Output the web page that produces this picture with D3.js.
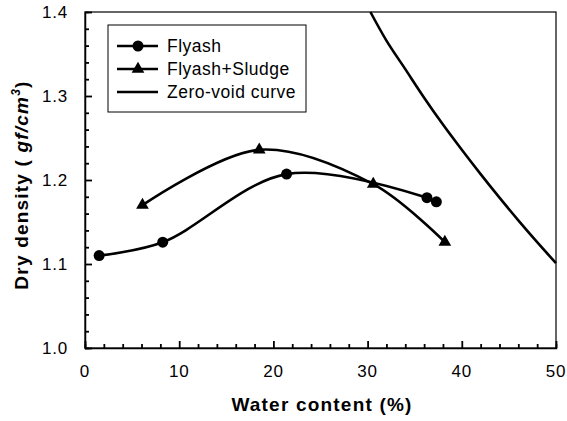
<!DOCTYPE html>
<html>
<head>
<meta charset="utf-8">
<script src="https://cdn.jsdelivr.net/npm/d3@7"></script>
<style>
  body { margin: 0; background: #fff; }
  svg { display: block; font-family: "Liberation Sans", Arial, sans-serif; }
</style>
</head>
<body>
<svg id="chart" width="567" height="421"></svg>
<script>
// values
const flyash = [
    {w: 1.5, d: 1.110},
    {w: 8.25, d: 1.126},
    {w: 21.4, d: 1.207},
    {w: 36.3, d: 1.179},
    {w: 37.3, d: 1.174}
]
const flyashSludge = [
    {w: 6.1, d: 1.170},
    {w: 18.5, d: 1.236},
    {w: 30.6, d: 1.195},
    {w: 38.2, d: 1.126}
]
const zeroVoid = [
    {w: 30.3, d: 1.400},
    {w: 32, d: 1.366},
    {w: 34, d: 1.332},
    {w: 36, d: 1.298},
    {w: 38, d: 1.266},
    {w: 40, d: 1.236},
    {w: 42, d: 1.207},
    {w: 44, d: 1.179},
    {w: 46, d: 1.152},
    {w: 48, d: 1.126},
    {w: 50, d: 1.101}
]
const xTicks = [0, 10, 20, 30, 40, 50]
const yTicks = [1.0, 1.1, 1.2, 1.3, 1.4]

const legendItems = [
    {label: 'Flyash', marker: 'circle'},
    {label: 'Flyash+Sludge', marker: 'triangle'},
    {label: 'Zero-void curve', marker: 'none'}
]

const svg = d3.select('#chart')
const m = {left: 85, top: 12, right: 556, bottom: 348}

const x = d3.scaleLinear().domain([0, 50]).range([m.left, m.right])
const y = d3.scaleLinear().domain([1.0, 1.4]).range([m.bottom, m.top])

// frame
svg.append('rect')
    .attr('x', m.left).attr('y', m.top)
    .attr('width', m.right - m.left).attr('height', m.bottom - m.top)
    .attr('fill', 'none').attr('stroke', '#000').attr('stroke-width', 1.2)

// ticks, pointing inward
let xAxis = svg.append('g').attr('transform', `translate(0,${m.bottom})`)
xAxis.call(d3.axisBottom(x).tickValues(d3.range(0, 50.1, 2)).tickSize(-4).tickFormat(''))
xAxis.call(g => g.selectAll('.tick line').filter(d => d % 10 === 0).attr('y2', -7))
xAxis.call(g => g.selectAll('.tick line').attr('stroke-width', 1.8))
xAxis.select('.domain').attr('stroke-width', 1.5)
xAxis.selectAll('.label')
    .data(xTicks)
    .join('text')
    .attr('class', 'label')
    .attr('x', d => x(d)).attr('y', 29)
    .attr('text-anchor', 'middle')
    .attr('font-size', 17).attr('letter-spacing', 0.8)
    .attr('fill', '#000')
    .text(d => d)

let yAxis = svg.append('g').attr('transform', `translate(${m.left},0)`)
yAxis.call(d3.axisLeft(y).tickValues(d3.range(0, 20.1, 1).map(i => 1.0 + i * 0.02)).tickSize(-4).tickFormat(''))
yAxis.call(g => g.selectAll('.tick line').filter(d => Math.abs(d * 10 - Math.round(d * 10)) < 1e-6).attr('x2', 7))
yAxis.call(g => g.selectAll('.tick line').attr('stroke-width', 1.8))
yAxis.select('.domain').attr('stroke-width', 1.5)
yAxis.selectAll('.label')
    .data(yTicks)
    .join('text')
    .attr('class', 'label')
    .attr('x', -17).attr('y', d => y(d) + 6)
    .attr('text-anchor', 'end')
    .attr('font-size', 17).attr('letter-spacing', 0.8)
    .attr('fill', '#000')
    .text(d => d.toFixed(1))

// axis titles
svg.append('text')
    .attr('x', 322).attr('y', 411)
    .attr('text-anchor', 'middle')
    .attr('font-size', 19).attr('font-weight', 'bold').attr('letter-spacing', 1.2)
    .text('Water content (%)')

let yTitle = svg.append('text')
    .attr('transform', 'translate(28,185) rotate(-90)')
    .attr('text-anchor', 'middle')
    .attr('font-size', 19).attr('font-weight', 'bold').attr('letter-spacing', 1.2)
yTitle.append('tspan').text('Dry density ( ')
yTitle.append('tspan').attr('font-style', 'italic').text('gf/cm')
yTitle.append('tspan').attr('font-style', 'italic').attr('font-size', 12).attr('dy', -8).text('3')
yTitle.append('tspan').attr('dy', 8).text(')')

// curves
let plot = svg.append('g')
let smooth = d3.line().x(d => x(d.w)).y(d => y(d.d)).curve(d3.curveCatmullRom.alpha(0.5))

plot.append('path').datum(flyash)
    .attr('d', smooth).attr('fill', 'none').attr('stroke', '#000').attr('stroke-width', 2.6)
plot.append('path').datum(flyashSludge)
    .attr('d', smooth).attr('fill', 'none').attr('stroke', '#000').attr('stroke-width', 2.6)
plot.append('path').datum(zeroVoid)
    .attr('d', smooth).attr('fill', 'none').attr('stroke', '#000').attr('stroke-width', 2.6)

let tri = d3.symbol().type(d3.symbolTriangle).size(70)

plot.selectAll('.dot')
    .data(flyash)
    .join('circle')
    .attr('cx', d => x(d.w)).attr('cy', d => y(d.d))
    .attr('r', 5.5).attr('fill', '#000')

plot.selectAll('.tri')
    .data(flyashSludge)
    .join('path')
    .attr('d', tri)
    .attr('transform', d => `translate(${x(d.w)},${y(d.d)})`)
    .attr('fill', '#000')

// legend
let legend = svg.append('g')
legend.append('rect')
    .attr('x', 108).attr('y', 25).attr('width', 198).attr('height', 87)
    .attr('fill', '#fff').attr('stroke', '#000').attr('stroke-width', 1)

let items = legend.selectAll('.item')
    .data(legendItems)
    .join('g')
    .attr('transform', (d, i) => `translate(0,${46 + i * 23})`)

items.append('line')
    .attr('x1', 117).attr('x2', 158)
    .attr('stroke', '#000').attr('stroke-width', 2.6)
items.filter(d => d.marker === 'circle').append('circle')
    .attr('cx', 138).attr('r', 5.5).attr('fill', '#000')
items.filter(d => d.marker === 'triangle').append('path')
    .attr('d', tri).attr('transform', 'translate(138,0)').attr('fill', '#000')
items.append('text')
    .attr('x', 167).attr('y', 6)
    .attr('font-size', 17.5).attr('letter-spacing', 0.5)
    .text(d => d.label)
</script>
</body>
</html>
